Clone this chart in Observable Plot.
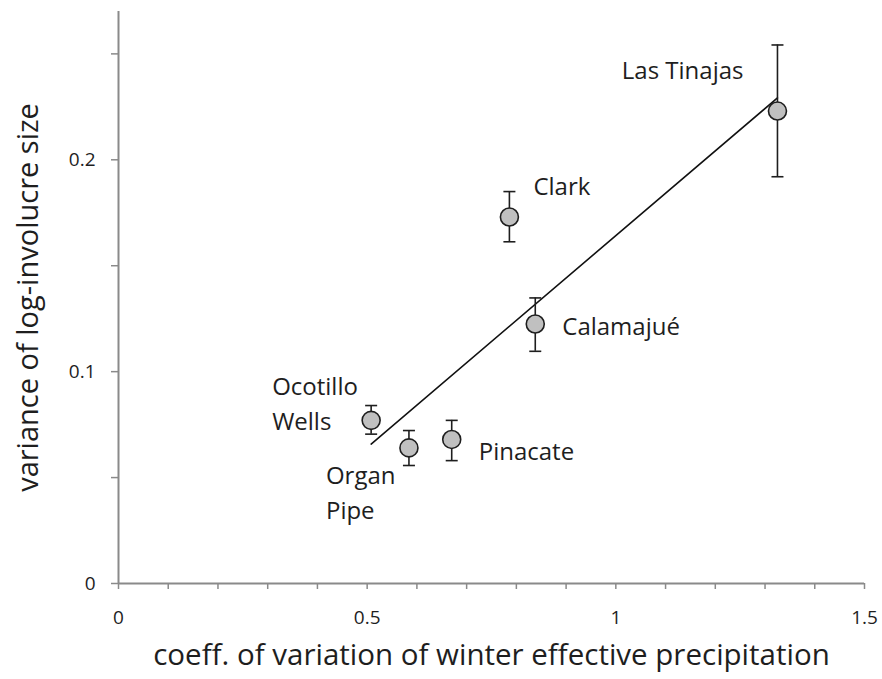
<!DOCTYPE html>
<html><head><meta charset="utf-8">
<script src="https://cdn.jsdelivr.net/npm/d3@7"></script>
<script src="https://cdn.jsdelivr.net/npm/@observablehq/plot@0.6"></script>
<style>body{margin:0;background:#fff;}</style>
</head><body><div id="chart"></div>
<script>
const sites = ["Ocotillo Wells", "Organ Pipe", "Pinacate", "Clark", "Calamajué", "Las Tinajas"];
const siteLabels = ["Ocotillo\nWells", "Organ\nPipe", "Pinacate", "Clark", "Calamajué", "Las Tinajas"];
const cvPrecip = [0.508, 0.584, 0.670, 0.786, 0.838, 1.325];
const varLogInvolucre = [0.077, 0.064, 0.068, 0.173, 0.1225, 0.223];
const errLow = [0.0705, 0.0557, 0.058, 0.1613, 0.1096, 0.192];
const errHigh = [0.084, 0.0722, 0.077, 0.185, 0.1348, 0.2542];
const xTickLabels = [0, 0.5, 1, 1.5];
const yTickLabels = [0, 0.1, 0.2];
const xTitle = "coeff. of variation of winter effective precipitation";
const yTitle = "variance of log-involucre size";

const rows = sites.map((s, i) => ({
  site: s, label: siteLabels[i], x: cvPrecip[i], y: varLogInvolucre[i], lo: errLow[i], hi: errHigh[i]
}));

const FONT = "Open Sans";
const AXIS = "#8a8a8a";
const INK = "#1e1e1e";
const cap = {draw(ctx) { ctx.moveTo(-6, 0); ctx.lineTo(6, 0); }};

const labelStyle = {
  "Las Tinajas": {textAnchor: "end", dx: -34, dy: -43},
  "Clark": {textAnchor: "start", dx: 24, dy: -33},
  "Calamajué": {textAnchor: "start", dx: 27, dy: 0},
  "Pinacate": {textAnchor: "start", dx: 27, dy: 9},
  "Ocotillo Wells": {textAnchor: "start", dx: -99, dy: -19},
  "Organ Pipe": {textAnchor: "start", dx: -83, dy: 42}
};

const labelMarks = rows.map(r => Plot.text([r], {
  x: "x", y: "y", text: "label", ...labelStyle[r.site],
  lineAnchor: "middle", fontSize: 24, lineHeight: 1.48, fill: INK, fontFamily: FONT
}));

const chart = Plot.plot({
  width: 882, height: 679,
  marginLeft: 118, marginRight: 18, marginTop: 11, marginBottom: 96,
  style: {fontFamily: FONT, background: "#fff", color: INK},
  x: {domain: [0, 1.5]},
  y: {domain: [0, 0.27]},
  marks: [
    Plot.axisX({ticks: d3.ticks(0, 1.5, 15), tickSize: 6, stroke: AXIS, strokeWidth: 1.5, text: null, label: null}),
    Plot.axisY({ticks: d3.ticks(0, 0.25, 5), tickSize: 7, stroke: AXIS, strokeWidth: 1.5, text: null, label: null}),
    Plot.text(xTickLabels, {x: d => d, text: d => String(d), frameAnchor: "bottom", lineAnchor: "middle",
      textAnchor: "middle", dy: 34, fontSize: 19, fill: INK, fontFamily: FONT}),
    Plot.text(yTickLabels, {y: d => d, text: d => String(d), frameAnchor: "left", lineAnchor: "middle",
      textAnchor: "end", dx: -23, fontSize: 19, fill: INK, fontFamily: FONT}),
    Plot.ruleX([0], {stroke: AXIS, strokeWidth: 2}),
    Plot.ruleY([0], {stroke: AXIS, strokeWidth: 2}),
    Plot.linearRegressionY(rows, {x: "x", y: "y", ci: 0, stroke: "#111", strokeWidth: 1.6}),
    Plot.ruleX(rows, {x: "x", y1: "lo", y2: "hi", stroke: INK, strokeWidth: 1.6}),
    Plot.dot(rows, {x: "x", y: "lo", symbol: cap, stroke: INK, strokeWidth: 1.6}),
    Plot.dot(rows, {x: "x", y: "hi", symbol: cap, stroke: INK, strokeWidth: 1.6}),
    Plot.dot(rows, {x: "x", y: "y", r: 9, fill: "#c0c0c0", stroke: INK, strokeWidth: 1.6}),
    ...labelMarks,
    Plot.text([xTitle], {frameAnchor: "bottom", lineAnchor: "middle", textAnchor: "middle", dy: 72,
      fontSize: 29.5, fill: INK, fontFamily: FONT}),
    Plot.text([yTitle], {frameAnchor: "left", lineAnchor: "middle", textAnchor: "middle", dx: -90, rotate: -90,
      fontSize: 29, fill: INK, fontFamily: FONT})
  ]
});
document.getElementById("chart").appendChild(chart);
</script>
</body></html>
